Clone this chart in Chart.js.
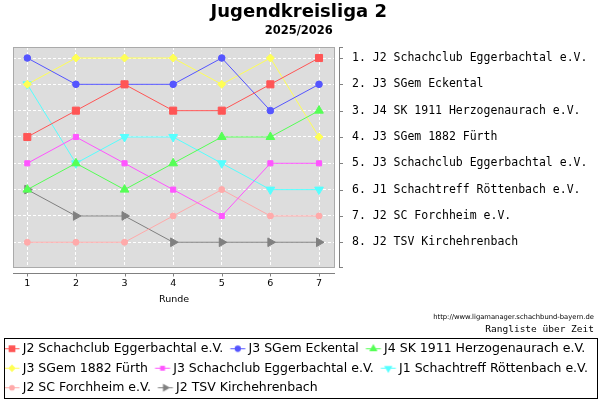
<!DOCTYPE html>
<html>
<head>
<meta charset="utf-8">
<script src="https://cdn.jsdelivr.net/npm/chart.js@4.4.0/dist/chart.umd.min.js"></script>
<style>
html,body{margin:0;padding:0;background:#fff;}
canvas{display:block;}
</style>
</head>
<body>
<canvas id="c" width="600" height="400"></canvas>
<script>
// ---- data ----
const rounds = [1, 2, 3, 4, 5, 6, 7];
const rankTicks = [1, 2, 3, 4, 5, 6, 7, 8];
const teams = [
  "J2 Schachclub Eggerbachtal e.V.",
  "J3 SGem Eckental",
  "J4 SK 1911 Herzogenaurach e.V.",
  "J3 SGem 1882 Fürth",
  "J3 Schachclub Eggerbachtal e.V.",
  "J1 Schachtreff Röttenbach e.V.",
  "J2 SC Forchheim e.V.",
  "J2 TSV Kirchehrenbach"
];
const rankEggerbachtalJ2 = [4, 3, 2, 3, 3, 2, 1];
const rankEckental       = [1, 2, 2, 2, 1, 3, 2];
const rankHerzogenaurach = [6, 5, 6, 5, 4, 4, 3];
const rankFuerth         = [2, 1, 1, 1, 2, 1, 4];
const rankEggerbachtalJ3 = [5, 4, 5, 6, 7, 5, 5];
const rankRoettenbach    = [2, 5, 4, 4, 5, 6, 6];
const rankForchheim      = [8, 8, 8, 7, 6, 7, 7];
const rankKirchehrenbach = [6, 7, 7, 8, 8, 8, 8];
const finalRankLabels = [
  "1. J2 Schachclub Eggerbachtal e.V.",
  "2. J3 SGem Eckental",
  "3. J4 SK 1911 Herzogenaurach e.V.",
  "4. J3 SGem 1882 Fürth",
  "5. J3 Schachclub Eggerbachtal e.V.",
  "6. J1 Schachtreff Röttenbach e.V.",
  "7. J2 SC Forchheim e.V.",
  "8. J2 TSV Kirchehrenbach"
];
const seriesRanks = [rankEggerbachtalJ2, rankEckental, rankHerzogenaurach, rankFuerth,
                     rankEggerbachtalJ3, rankRoettenbach, rankForchheim, rankKirchehrenbach];

// ---- styles ----
const colors = ['#ff5555', '#5555ff', '#55ff55', '#ffff55', '#ff55ff', '#55ffff', '#ffaaaa', '#808080'];
const pointStyles = ['rect', 'circle', 'triangle', 'rectRot', 'rect', 'triangle', 'circle', 'triangle'];
const pointRotations = [0, 0, 0, 0, 0, 180, 0, 90];
const pointRadii = [5, 3.3, 5, 4, 3.6, 5, 3, 5];

Chart.defaults.font.family = "'DejaVu Sans'";
Chart.defaults.color = '#000';

function makeLegendIcon(i) {
  const cv = document.createElement('canvas');
  cv.width = 21; cv.height = 11;
  const c = cv.getContext('2d');
  c.strokeStyle = colors[i];
  c.lineWidth = 1;
  c.beginPath(); c.moveTo(4.5, 5.5); c.lineTo(19.5, 5.5); c.stroke();
  c.fillStyle = colors[i];
  Chart.helpers.drawPoint(c, {pointStyle: pointStyles[i], rotation: pointRotations[i], radius: pointRadii[i] * 0.95, borderWidth: 0}, 12, 5.5);
  return cv;
}
const legendIcons = teams.map((t, i) => makeLegendIcon(i));

const datasets = teams.map((t, i) => ({
  label: t,
  data: rounds.map((r, k) => ({x: r, y: seriesRanks[i][k]})),
  borderColor: colors[i],
  backgroundColor: colors[i],
  pointBackgroundColor: colors[i],
  pointBorderColor: colors[i],
  pointBorderWidth: 1,
  pointStyle: pointStyles[i],
  pointRotation: pointRotations[i],
  pointRadius: pointRadii[i],
  borderWidth: 1,
  tension: 0,
  clip: false,
  xAxisID: 'x',
  yAxisID: 'y'
}));

const deco = {
  id: 'deco',
  beforeDraw(chart) {
    const {ctx, chartArea: a} = chart;
    ctx.save();
    ctx.fillStyle = '#dddddd';
    ctx.fillRect(a.left, a.top, a.right - a.left, a.bottom - a.top);
    ctx.restore();
  },
  beforeDatasetsDraw(chart) {
    const {ctx, chartArea: a} = chart;
    ctx.save();
    ctx.strokeStyle = '#aaaaaa';
    ctx.lineWidth = 1;
    ctx.strokeRect(a.left + 0.5, a.top + 0.5, a.right - a.left - 1, a.bottom - a.top - 1);
    ctx.restore();
  },
  afterDraw(chart) {
    const {ctx, chartArea: a, scales} = chart;
    ctx.save();
    ctx.strokeStyle = '#808080';
    ctx.lineWidth = 1;
    // x axis (offset below plot)
    const xy = Math.round(a.bottom) + 5.5;
    ctx.beginPath();
    ctx.moveTo(a.left, xy); ctx.lineTo(a.right, xy);
    rounds.forEach(r => {
      const px = Math.round(scales.x.getPixelForValue(r)) + 0.5;
      ctx.moveTo(px, xy); ctx.lineTo(px, xy + 3);
    });
    // right axis (offset right of plot)
    const rx = Math.round(a.right) + 4.5;
    ctx.moveTo(rx, a.top); ctx.lineTo(rx, a.bottom);
    rankTicks.forEach(v => {
      const py = Math.round(scales.y.getPixelForValue(v)) + 0.5;
      ctx.moveTo(rx, py); ctx.lineTo(rx + 3.5, py);
    });
    ctx.moveTo(rx, Math.round(a.top) + 0.5); ctx.lineTo(rx + 3.5, Math.round(a.top) + 0.5);
    ctx.moveTo(rx, Math.round(a.bottom) - 0.5); ctx.lineTo(rx + 3.5, Math.round(a.bottom) - 0.5);
    ctx.stroke();

    // legend frame
    const lg = chart.legend;
    ctx.strokeStyle = '#000';
    ctx.strokeRect(Math.round(lg.left + 6) + 0.5, Math.round(lg.top) + 2.5, Math.round(lg.right - lg.left - 9.5), 60);

    // footer texts
    ctx.fillStyle = '#000';
    ctx.textAlign = 'right';
    ctx.textBaseline = 'middle';
    const url = 'http://www.ligamanager.schachbund-bayern.de';
    ctx.font = "8px 'DejaVu Sans'";
    const w = ctx.measureText(url).width;
    ctx.font = (8 * 161 / w).toFixed(2) + "px 'DejaVu Sans'";
    ctx.fillText(url, lg.right - 6, lg.top - 18.5);
    ctx.font = "9.5px 'DejaVu Sans Mono'";
    ctx.fillText('Rangliste über Zeit', lg.right - 6, lg.top - 5.5);
    ctx.restore();
  }
};

new Chart(document.getElementById('c'), {
  type: 'line',
  data: {datasets},
  plugins: [deco],
  options: {
    responsive: false,
    animation: false,
    devicePixelRatio: 1,
    layout: {padding: {left: -2.5, right: 0, top: 0, bottom: -4}},
    scales: {
      yl: {
        type: 'linear', position: 'left', min: 0, max: 1,
        ticks: {display: false},
        grid: {display: false, drawTicks: false},
        border: {display: false},
        afterFit: s => { s.width = 15.5; }
      },
      x: {
        type: 'linear', position: 'bottom', min: 0.706, max: 7.329,
        afterBuildTicks: s => { s.ticks = rounds.map(v => ({value: v})); },
        ticks: {autoSkip: false, maxRotation: 0, padding: 9.5, font: {size: 9.5}, color: '#000'},
        grid: {color: '#ffffff', drawTicks: false, lineWidth: 1},
        border: {display: false, dash: [3, 2]},
        title: {display: true, text: 'Runde', font: {size: 9.5}, color: '#000', padding: {top: 0, bottom: 30.5}},
        afterFit: s => { s.height = 67.5; }
      },
      y: {
        type: 'linear', position: 'right', reverse: true, min: 0.5815, max: 8.978,
        afterBuildTicks: s => { s.ticks = rankTicks.map(v => ({value: v})); },
        ticks: {
          autoSkip: false, padding: 17, color: '#000',
          font: {family: "'DejaVu Sans Mono'", size: 11.5},
          callback: (v, idx) => finalRankLabels[idx]
        },
        grid: {color: '#ffffff', drawTicks: false, lineWidth: 1},
        border: {display: false, dash: [3, 2]},
        afterFit: s => { s.width = 265; }
      }
    },
    plugins: {
      title: {
        display: true, text: 'Jugendkreisliga 2', color: '#000',
        font: {size: 18, weight: 'bold'}, padding: {top: 1.2, bottom: 0}
      },
      subtitle: {
        display: true, text: '2025/2026', color: '#000',
        font: {size: 11.5, weight: 'bold'}, padding: {top: 1.3, bottom: 9.1}
      },
      legend: {
        position: 'bottom', align: 'start',
        labels: {
          usePointStyle: true, pointStyleWidth: 12, padding: 7,
          font: {size: 12.5}, color: '#000',
          generateLabels: chart => chart.data.datasets.map((ds, i) => ({
            text: ds.label, pointStyle: legendIcons[i],
            fillStyle: ds.borderColor, strokeStyle: ds.borderColor,
            lineWidth: 0, hidden: false, datasetIndex: i, fontColor: '#000'
          }))
        }
      },
      tooltip: {enabled: false}
    }
  }
});
</script>
</body>
</html>
